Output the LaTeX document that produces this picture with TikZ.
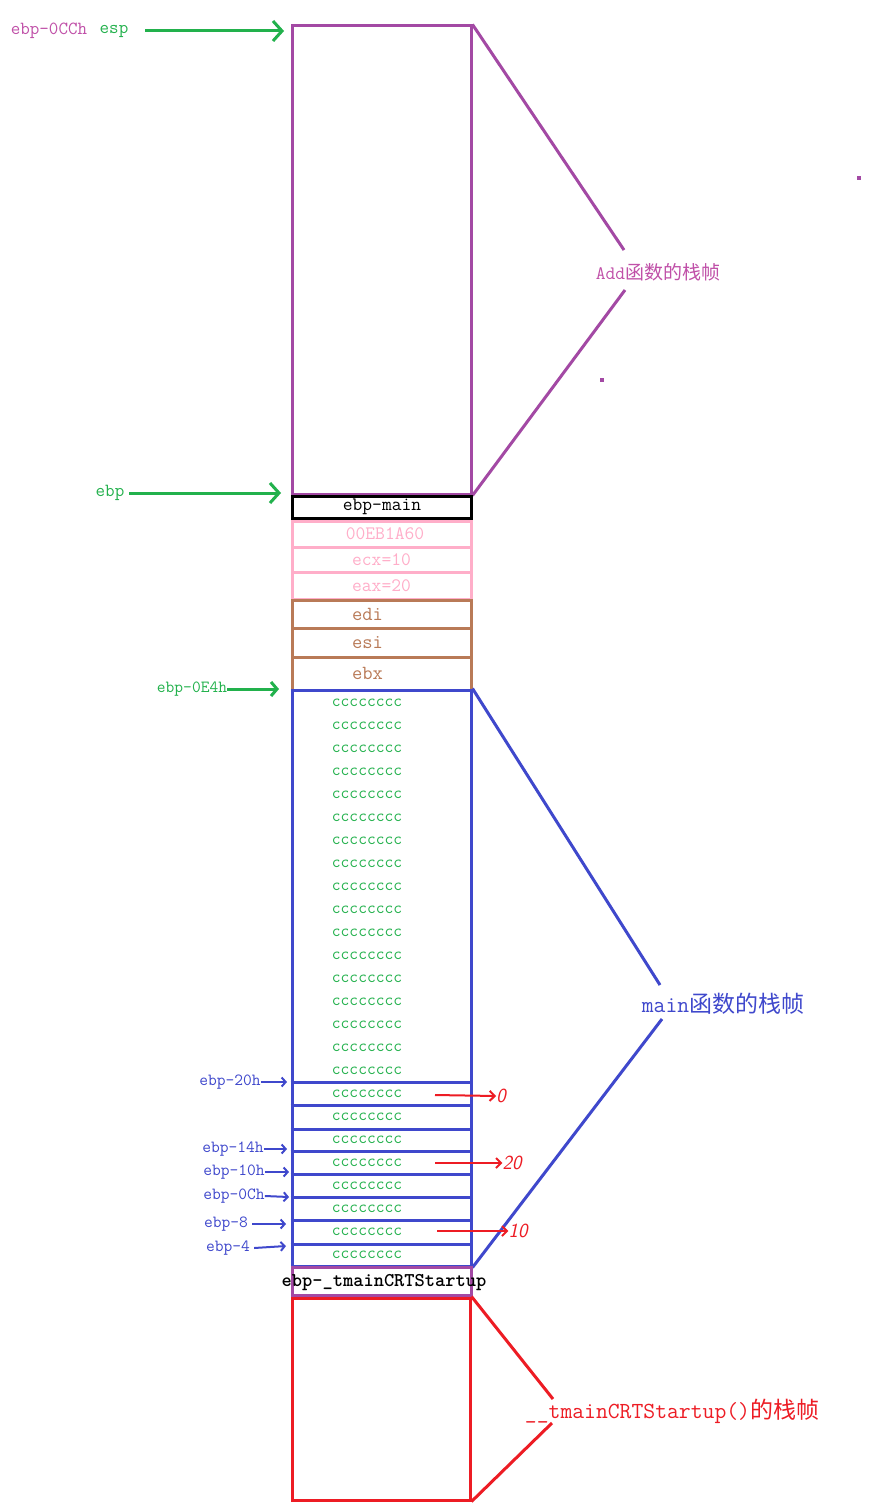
\documentclass[tikz,border=0pt]{standalone}
\usepackage{fontspec}
\newfontfamily\cjk{Noto Sans CJK SC}
\usetikzlibrary{arrows.meta}
\definecolor{ppurple}{HTML}{A349A4}
\definecolor{ptext}{HTML}{C050A8}
\definecolor{pgreen}{HTML}{22B14C}
\definecolor{pblue}{HTML}{3F48CC}
\definecolor{pred}{HTML}{ED1C24}
\definecolor{ppink}{HTML}{FFAEC9}
\definecolor{pbrown}{HTML}{B97A57}
\tikzset{
  frame/.style={draw, line width=3pt, minimum width=179pt, inner sep=0pt},
  slot/.style={draw, line width=3pt, minimum width=179pt, inner sep=0pt, font=\ttfamily\fontsize{19}{19}\selectfont},
  cc/.style={text=pgreen, inner sep=0pt, font=\ttfamily\fontsize{17}{17}\selectfont},
  lbl/.style={inner sep=0pt, font=\ttfamily\fontsize{17}{17}\selectfont},
  garrow/.style={draw=pgreen, line width=3pt, -{Straight Barb[length=9pt,width=20pt,line width=3pt]}},
  barrow/.style={draw=pblue, line width=2pt, -{Straight Barb[length=4pt,width=9pt,line width=2pt]}},
  rarrow/.style={draw=pred, line width=2pt, -{Straight Barb[length=5pt,width=10pt,line width=2pt]}},
  brace/.style={line width=3pt},
  bigl/.style={inner sep=0pt},
  hand/.style={text=pred, inner sep=0pt, font=\sffamily\itshape\fontsize{20}{20}\selectfont}
}
\begin{document}
\begin{tikzpicture}[x=1pt,y=-1pt]
\useasboundingbox[fill=white] (0,0) rectangle (872,1511);

% ---- Add frame
\node[frame, draw=ppurple, minimum height=468pt] (addf) at (381.5,260) {};
\node[bigl, text=ptext, font=\ttfamily\fontsize{19}{19}\selectfont] (addl) at (658,272) {Add{\cjk 函数的栈帧}};
\coordinate (addt) at (624,250);
\coordinate (addb) at (625,290);
\draw[ppurple, brace] (addf.north east) -- (addt);
\draw[ppurple, brace] (addb) -- (addf.south east);
\fill[ppurple] (857,176) rectangle (861,180);
\fill[ppurple] (600,378) rectangle (604,382);

% ---- slots
\node[slot, draw=black, minimum height=22pt] (ebpmain) at (382,507) {ebp-main};
\node[slot, draw=ppink, text=ppink, minimum height=26pt] (ret) at (381.5,534) {\hspace*{7pt}00EB1A60};
\node[slot, draw=ppink, text=ppink, minimum height=25pt] (ecx) at (381.5,559.5) {ecx=10};
\node[slot, draw=ppink, text=ppink, minimum height=27pt] (eax) at (381.5,585.5) {eax=20};
\node[slot, draw=pbrown, text=pbrown, minimum height=28pt, font=\ttfamily\fontsize{20}{20}\selectfont] (edi) at (381.5,614) {\hspace*{-28pt}edi};
\node[slot, draw=pbrown, text=pbrown, minimum height=29pt, font=\ttfamily\fontsize{20}{20}\selectfont] (esi) at (381.5,642.5) {\hspace*{-28pt}esi};
\node[slot, draw=pbrown, text=pbrown, minimum height=33pt, font=\ttfamily\fontsize{20}{20}\selectfont] (ebx) at (381.5,673.5) {\hspace*{-28pt}ebx};

% ---- main frame
\node[frame, draw=pblue, minimum height=576pt] (mainf) at (381.5,978) {};
\foreach \yy in {1082,1105,1129,1151,1174,1197,1220,1244}{
  \draw[pblue, line width=3pt] (mainf.west |- 0,\yy) -- (mainf.east |- 0,\yy);
}
\foreach \i in {0,...,24}{
  \node[cc] (c\i) at (367,{703+23*\i}) {cccccccc};
}
\node[bigl, text=pblue, font=\ttfamily\fontsize{23}{23}\selectfont] (mainl) at (723,1004) {main{\cjk 函数的栈帧}};
\coordinate (maint) at (660,985);
\coordinate (mainb) at (662,1019);
\draw[pblue, brace] (mainf.north east) -- (maint);
\draw[pblue, brace] (mainb) -- (mainf.south east);

% ---- tmainCRTStartup
\node[frame, draw=ppurple, minimum height=28pt] (tmain) at (381.5,1281) {};
\node[inner sep=0pt, font=\ttfamily\bfseries\fontsize{19.5}{19.5}\selectfont] (tmaint) at (384,1283) {ebp-\_tmainCRTStartup};
\node[frame, draw=pred, minimum height=202pt, minimum width=178pt] (crtf) at (381,1399) {};
\node[bigl, text=pred, font=\ttfamily\fontsize{23}{23}\selectfont] (crtl) at (672,1411) {\_\_tmainCRTStartup(){\cjk 的栈帧}};
\coordinate (crtt) at (553,1399);
\coordinate (crtb) at (552,1423);
\draw[pred, brace] (crtf.north east) -- (crtt);
\draw[pred, brace] (crtb) -- (crtf.south east);

% ---- left labels (green)
\node[lbl, text=ptext, font=\ttfamily\fontsize{18.5}{18.5}\selectfont] (l0cch) at (49,31) {ebp-0CCh};
\node[lbl, text=pgreen, font=\ttfamily\fontsize{18.5}{18.5}\selectfont] (lesp) at (114,31) {esp};
\coordinate (aesp) at (284,31);
\draw[garrow] ([xshift=17pt]lesp.east) -- (aesp);

\node[lbl, text=pgreen, font=\ttfamily\fontsize{18.5}{18.5}\selectfont] (lebp) at (110,493) {ebp};
\coordinate (aebp) at (281,493);
\draw[garrow] ([xshift=5pt]lebp.east) -- (aebp);

\node[lbl, text=pgreen] (le4) at (192,689) {ebp-0E4h};
\coordinate (ae4) at (279,689);
\draw[pgreen, line width=3pt, -{Straight Barb[length=6pt,width=14pt,line width=3pt]}] (le4.east) -- (ae4);

% ---- left labels (blue)
\node[lbl, text=pblue] (l20) at (230,1082) {ebp-20h};
\coordinate (a20) at (287,1082);
\draw[barrow] (l20.east) -- (a20);
\node[lbl, text=pblue] (l14) at (233,1149) {ebp-14h};
\coordinate (a14) at (287,1149);
\draw[barrow] (l14.east) -- (a14);
\node[lbl, text=pblue] (l10) at (234,1172) {ebp-10h};
\coordinate (a10) at (289,1172);
\draw[barrow] (l10.east) -- (a10);
\node[lbl, text=pblue] (l0c) at (234,1196) {ebp-0Ch};
\coordinate (a0c) at (289,1197);
\draw[barrow] (l0c.east) -- (a0c);
\node[lbl, text=pblue] (l8) at (226,1224) {ebp-8};
\coordinate (a8) at (286,1224);
\draw[barrow] ([xshift=4pt]l8.east) -- (a8);
\node[lbl, text=pblue] (l4) at (228,1248) {ebp-4};
\coordinate (a4) at (286,1246);
\draw[barrow] ([xshift=4pt]l4.east) -- (a4);

% ---- red value arrows
\node[hand] (v0) at (501,1096) {0};
\coordinate (s0) at (435,1095);
\draw[rarrow] (s0) -- (v0.west);
\node[hand] (v20) at (512,1163) {20};
\coordinate (s20) at (435,1163);
\draw[rarrow] (s20) -- (v20.west);
\node[hand] (v10) at (518,1231) {10};
\coordinate (s10) at (437,1231);
\draw[rarrow] (s10) -- (v10.west);
\end{tikzpicture}
\end{document}
